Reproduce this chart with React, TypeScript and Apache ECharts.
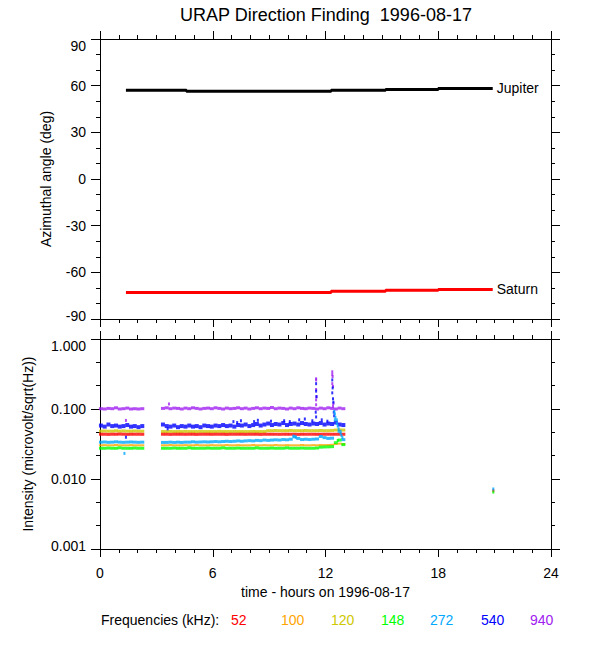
import React, { useEffect, useRef } from 'react';
import * as echarts from 'echarts';

const FONT = '"Liberation Sans", Arial, Helvetica, sans-serif';

// ---------- Top panel: azimuthal angle of Jupiter / Saturn (step lines) ----------
const PLANET_TIMES = [1.38, 4.6, 12.3, 15.2, 18.0, 20.9];
const JUPITER_DEG = [57.0, 56.4, 57.0, 57.6, 58.2, 58.2];
const SATURN_DEG = [-73.0, -73.0, -72.2, -71.5, -71.0, -71.0];

// ---------- Bottom panel: intensity per frequency ----------
const TIMES_A = [0.05, 0.25, 0.45, 0.65, 0.85, 1.05, 1.25, 1.45, 1.65, 1.85, 2.05, 2.25];
const TIMES_B = [3.35, 3.55, 3.75, 3.95, 4.15, 4.35, 4.55, 4.75, 4.95, 5.15, 5.35, 5.55, 5.75, 5.95, 6.15, 6.35, 6.55, 6.75, 6.95, 7.15, 7.35, 7.55, 7.75, 7.95, 8.15, 8.35, 8.55, 8.75, 8.95, 9.15, 9.35, 9.55, 9.75, 9.95, 10.15, 10.35, 10.55, 10.75, 10.95, 11.15, 11.35, 11.55, 11.75, 11.95, 12.15, 12.35, 12.55, 12.75, 12.95];

const F52_A = [0.0436, 0.0436, 0.0434, 0.0436, 0.0436, 0.0438, 0.0436, 0.0434, 0.0436, 0.0436, 0.0436, 0.0435];
const F52_B = [0.0436, 0.0436, 0.0434, 0.0436, 0.0436, 0.0436, 0.0435, 0.0436, 0.0436, 0.0434, 0.0436, 0.0436, 0.0436, 0.0435, 0.0436, 0.0436, 0.0436, 0.0434, 0.0436, 0.0436, 0.0436, 0.0436, 0.0435, 0.0436, 0.0436, 0.0436, 0.0434, 0.0436, 0.0436, 0.0436, 0.0436, 0.0435, 0.0436, 0.0436, 0.0436, 0.0436, 0.0434, 0.0436, 0.0436, 0.0436, 0.0436, 0.0435, 0.0436, 0.0436, 0.0436, 0.0436, 0.0436, 0.0436, 0.0436];
const F52_X = [[20.93, 0.0068]];

const F100_A = [0.0303, 0.0305, 0.0303, 0.0303, 0.0306, 0.0303, 0.0303, 0.0303, 0.0305, 0.0303, 0.0303, 0.0303];
const F100_B = [0.0303, 0.0303, 0.0306, 0.0303, 0.0303, 0.0303, 0.0305, 0.0303, 0.0303, 0.0306, 0.0303, 0.0303, 0.0303, 0.0305, 0.0303, 0.0303, 0.0303, 0.0306, 0.0303, 0.0303, 0.0305, 0.0303, 0.0303, 0.0303, 0.0306, 0.0303, 0.0303, 0.0305, 0.0303, 0.0303, 0.0306, 0.0303, 0.0303, 0.0305, 0.0303, 0.0303, 0.0303, 0.0306, 0.0303, 0.0303, 0.0305, 0.0303, 0.0306, 0.0305, 0.0306, 0.0308, 0.0316, 0.0320, 0.0316];

const F120_A = [0.0482, 0.0485, 0.0482, 0.0482, 0.0488, 0.0482, 0.0485, 0.0482, 0.0482, 0.0485, 0.0482, 0.0482];
const F120_B = [0.0476, 0.0476, 0.0478, 0.0476, 0.0476, 0.0476, 0.0479, 0.0476, 0.0476, 0.0476, 0.0478, 0.0476, 0.0476, 0.0476, 0.0476, 0.0479, 0.0476, 0.0476, 0.0476, 0.0478, 0.0476, 0.0476, 0.0476, 0.0476, 0.0478, 0.0476, 0.0476, 0.0476, 0.0490, 0.0490, 0.0493, 0.0490, 0.0490, 0.0490, 0.0494, 0.0490, 0.0490, 0.0490, 0.0493, 0.0490, 0.0490, 0.0490, 0.0493, 0.0490, 0.0490, 0.0494, 0.0500, 0.0502, 0.0500];

const F148_A = [0.0275, 0.0275, 0.0277, 0.0275, 0.0275, 0.0279, 0.0275, 0.0275, 0.0275, 0.0277, 0.0275, 0.0275];
const F148_B = [0.0275, 0.0275, 0.0275, 0.0277, 0.0275, 0.0275, 0.0275, 0.0279, 0.0275, 0.0275, 0.0275, 0.0275, 0.0277, 0.0275, 0.0275, 0.0275, 0.0279, 0.0275, 0.0275, 0.0275, 0.0277, 0.0275, 0.0275, 0.0275, 0.0275, 0.0279, 0.0275, 0.0275, 0.0275, 0.0277, 0.0275, 0.0275, 0.0275, 0.0279, 0.0275, 0.0275, 0.0275, 0.0277, 0.0275, 0.0275, 0.0275, 0.0277, 0.0285, 0.0287, 0.0288, 0.0290, 0.0330, 0.0360, 0.0310];
const F148_X = [[20.93, 0.0065], [12.65, 0.0355]];

const F272_A = [0.0336, 0.0338, 0.0334, 0.0336, 0.0340, 0.0336, 0.0334, 0.0336, 0.0338, 0.0336, 0.0334, 0.0336];
const F272_B = [0.0333, 0.0333, 0.0336, 0.0333, 0.0336, 0.0333, 0.0336, 0.0336, 0.0340, 0.0336, 0.0338, 0.0340, 0.0338, 0.0340, 0.0343, 0.0340, 0.0343, 0.0346, 0.0343, 0.0346, 0.0350, 0.0346, 0.0350, 0.0353, 0.0350, 0.0356, 0.0353, 0.0360, 0.0356, 0.0360, 0.0363, 0.0360, 0.0366, 0.0363, 0.0370, 0.0400, 0.0380, 0.0366, 0.0370, 0.0366, 0.0370, 0.0373, 0.0405, 0.0390, 0.0380, 0.0383, 0.0700, 0.0480, 0.0365];
const F272_X = [[1.3, 0.0232], [10.3, 0.041], [10.42, 0.0395], [12.47, 0.092], [12.5, 0.085], [12.53, 0.076], [12.6, 0.062], [12.65, 0.057], [12.7, 0.052], [12.8, 0.045], [12.85, 0.042], [12.9, 0.039], [20.93, 0.0072]];

const F540_A = [0.058, 0.056, 0.060, 0.057, 0.058, 0.056, 0.057, 0.059, 0.056, 0.057, 0.055, 0.057];
const F540_B = [0.060, 0.057, 0.056, 0.058, 0.055, 0.057, 0.056, 0.058, 0.056, 0.057, 0.055, 0.058, 0.057, 0.056, 0.058, 0.057, 0.059, 0.057, 0.058, 0.056, 0.059, 0.058, 0.060, 0.057, 0.059, 0.061, 0.058, 0.060, 0.062, 0.059, 0.061, 0.060, 0.063, 0.059, 0.061, 0.062, 0.060, 0.063, 0.061, 0.060, 0.062, 0.061, 0.063, 0.060, 0.062, 0.061, 0.064, 0.060, 0.059];
const F540_X = [[1.38, 0.0395], [3.6, 0.052], [7.1, 0.066], [7.3, 0.064], [7.5, 0.068], [8.2, 0.066], [8.4, 0.069], [9.1, 0.067], [9.8, 0.068], [10.1, 0.066], [10.6, 0.070], [10.9, 0.072], [11.3, 0.068], [11.8, 0.070], [12.1, 0.067], [11.5, 0.23], [11.5, 0.18], [11.52, 0.15], [11.48, 0.09], [11.5, 0.077], [12.36, 0.26], [12.38, 0.20], [12.36, 0.17], [12.4, 0.14], [12.42, 0.125], [12.44, 0.09], [12.46, 0.08]];

const F940_A = [0.101, 0.100, 0.102, 0.101, 0.104, 0.100, 0.101, 0.103, 0.100, 0.101, 0.100, 0.101];
const F940_B = [0.102, 0.104, 0.101, 0.103, 0.102, 0.100, 0.103, 0.101, 0.104, 0.102, 0.100, 0.102, 0.103, 0.101, 0.104, 0.102, 0.100, 0.103, 0.101, 0.102, 0.104, 0.101, 0.103, 0.100, 0.102, 0.104, 0.101, 0.103, 0.102, 0.105, 0.101, 0.103, 0.102, 0.100, 0.103, 0.101, 0.104, 0.102, 0.101, 0.103, 0.102, 0.100, 0.103, 0.101, 0.104, 0.102, 0.100, 0.103, 0.101];
const F940_X = [[1.38, 0.0687], [3.67, 0.118], [11.5, 0.27], [11.5, 0.26], [11.5, 0.19], [11.52, 0.15], [11.5, 0.135], [11.5, 0.115], [12.36, 0.34], [12.36, 0.31], [12.38, 0.29], [12.36, 0.23], [12.4, 0.21], [12.42, 0.12], [12.4, 0.11]];

const FREQ_LABELS = ['52', '100', '120', '148', '272', '540', '940'];
const FREQ_COLORS = ['#ff0000', '#ffa500', '#cdc800', '#00ff00', '#00a8ff', '#0000ff', '#a020f0'];

function zip(t: number[], v: number[]) {
  return t.map((x, i) => [x, v[i]]);
}

function xAx(gridIndex: number, position: string, labels: boolean, name?: string) {
  return {
    type: 'value', gridIndex, position, min: 0, max: 24, interval: 6,
    name: name || '', nameLocation: 'middle', nameGap: 36,
    nameTextStyle: { color: '#000', fontSize: 14, fontFamily: FONT },
    axisLine: { show: true, onZero: false, lineStyle: { color: '#000', width: 1 } },
    axisTick: { show: true, length: 8, lineStyle: { color: '#000', width: 1 } },
    minorTick: { show: true, splitNumber: 6, length: 4, lineStyle: { color: '#000', width: 1 } },
    splitLine: { show: false }, minorSplitLine: { show: false },
    axisLabel: { show: labels, color: '#000', fontSize: 14, fontFamily: FONT, margin: 17 },
  };
}

function yAx(gridIndex: number, position: string, labels: boolean, min: number, max: number, interval: number, split: number, name: string, nameGap: number, fmt?: (v: number) => string) {
  const f = fmt || ((v: number) => String(v));
  return {
    type: 'value', gridIndex, position, min, max, interval,
    name, nameLocation: 'middle', nameGap,
    nameTextStyle: { color: '#000', fontSize: 14, fontFamily: FONT },
    axisLine: { show: true, onZero: false, lineStyle: { color: '#000', width: 1 } },
    axisTick: { show: true, length: 9, lineStyle: { color: '#000', width: 1 } },
    minorTick: { show: true, splitNumber: split, length: 4, lineStyle: { color: '#000', width: 1 } },
    splitLine: { show: false }, minorSplitLine: { show: false },
    axisLabel: {
      show: labels, color: '#000', fontSize: 14, fontFamily: FONT, margin: 14,
      verticalAlignMaxLabel: 'top', verticalAlignMinLabel: 'bottom',
      formatter: (v: number) => (v === min ? `{lo|${f(v)}}` : f(v)),
      rich: { lo: { lineHeight: 7, fontSize: 14, fontFamily: FONT, color: '#000' } },
    },
  };
}

function bandSeries(t: number[], v: number[], color: string, size: number[]) {
  return {
    type: 'scatter', xAxisIndex: 2, yAxisIndex: 4, symbol: 'rect', symbolSize: size,
    itemStyle: { color }, data: zip(t, v), silent: true,
  };
}

function extraSeries(pts: number[][], color: string) {
  return {
    type: 'scatter', xAxisIndex: 2, yAxisIndex: 4, symbol: 'rect', symbolSize: [2, 3],
    itemStyle: { color }, data: pts, silent: true,
  };
}

export default function App() {
  const ref = useRef<HTMLDivElement>(null);
  useEffect(() => {
    const chart = echarts.init(ref.current!, null, { renderer: 'svg' });
    const logFmt = (v: number) => Math.pow(10, v).toFixed(3);
    const series: any[] = [
      {
        type: 'line', xAxisIndex: 0, yAxisIndex: 0, step: 'end', showSymbol: false,
        lineStyle: { color: '#000', width: 3 }, data: zip(PLANET_TIMES, JUPITER_DEG),
        endLabel: { show: true, formatter: 'Jupiter', color: '#000', fontSize: 14, fontFamily: FONT, distance: 4 },
      },
      {
        type: 'line', xAxisIndex: 0, yAxisIndex: 0, step: 'end', showSymbol: false,
        lineStyle: { color: '#ff0000', width: 3 }, data: zip(PLANET_TIMES, SATURN_DEG),
        endLabel: { show: true, formatter: 'Saturn', color: '#000', fontSize: 14, fontFamily: FONT, distance: 4 },
      },
    ];
    const bands: [number[], number[], number, number[]][] = [
      [F940_A, F940_B, 6, [4, 3]],
      [F540_A, F540_B, 5, [4, 4]],
      [F120_A, F120_B, 2, [4, 3]],
      [F52_A, F52_B, 0, [4, 3]],
      [F100_A, F100_B, 1, [4, 2]],
      [F272_A, F272_B, 4, [4, 3]],
      [F148_A, F148_B, 3, [4, 3]],
    ];
    bands.forEach(([a, b, ci, sz]) => {
      series.push(bandSeries(TIMES_A, a, FREQ_COLORS[ci], sz));
      series.push(bandSeries(TIMES_B, b, FREQ_COLORS[ci], sz));
    });
    series.push(extraSeries(F940_X, FREQ_COLORS[6]));
    series.push(extraSeries(F540_X, FREQ_COLORS[5]));
    series.push(extraSeries(F52_X, FREQ_COLORS[0]));
    series.push(extraSeries(F272_X, FREQ_COLORS[4]));
    series.push(extraSeries(F148_X, FREQ_COLORS[3]));

    const legendX = [231, 281, 331, 381, 430, 481, 530];
    const graphic: any[] = [
      {
        type: 'text', x: 326, y: 15,
        style: { text: 'URAP Direction Finding  1996-08-17', fill: '#000', fontSize: 18, fontFamily: FONT, textAlign: 'center', textVerticalAlign: 'middle' },
      },
      {
        type: 'text', x: 101, y: 620,
        style: { text: 'Frequencies (kHz):', fill: '#000', fontSize: 14, fontFamily: FONT, textAlign: 'left', textVerticalAlign: 'middle' },
      },
      ...FREQ_LABELS.map((f, i) => ({
        type: 'text', x: legendX[i], y: 620,
        style: { text: f, fill: FREQ_COLORS[i], fontSize: 14, fontFamily: FONT, textAlign: 'left', textVerticalAlign: 'middle' },
      })),
    ];

    chart.setOption({
      animation: false,
      backgroundColor: '#fff',
      textStyle: { fontFamily: FONT },
      grid: [
        { left: 100, top: 39, width: 451, height: 280, containLabel: false, outerBoundsMode: 'none' },
        { left: 100, top: 339, width: 451, height: 210, containLabel: false, outerBoundsMode: 'none' },
      ],
      xAxis: [
        xAx(0, 'bottom', false),
        xAx(0, 'top', false),
        xAx(1, 'bottom', true, 'time - hours on 1996-08-17'),
        xAx(1, 'top', false),
      ],
      yAxis: [
        yAx(0, 'left', true, -90, 90, 30, 3, 'Azimuthal angle (deg)', 47),
        yAx(0, 'right', false, -90, 90, 30, 3, '', 0),
        yAx(1, 'left', true, -3, 0, 1, 3, 'Intensity (microvolt/sqrt(Hz))', 65, logFmt),
        yAx(1, 'right', false, -3, 0, 1, 3, '', 0),
        { type: 'log', logBase: 10, gridIndex: 1, min: 0.001, max: 1, show: false },
      ],
      series,
      graphic,
    });
    return () => chart.dispose();
  }, []);
  return <div ref={ref} style={{ position: 'fixed', left: 0, top: 0, width: 600, height: 650, background: '#fff' }} />;
}
